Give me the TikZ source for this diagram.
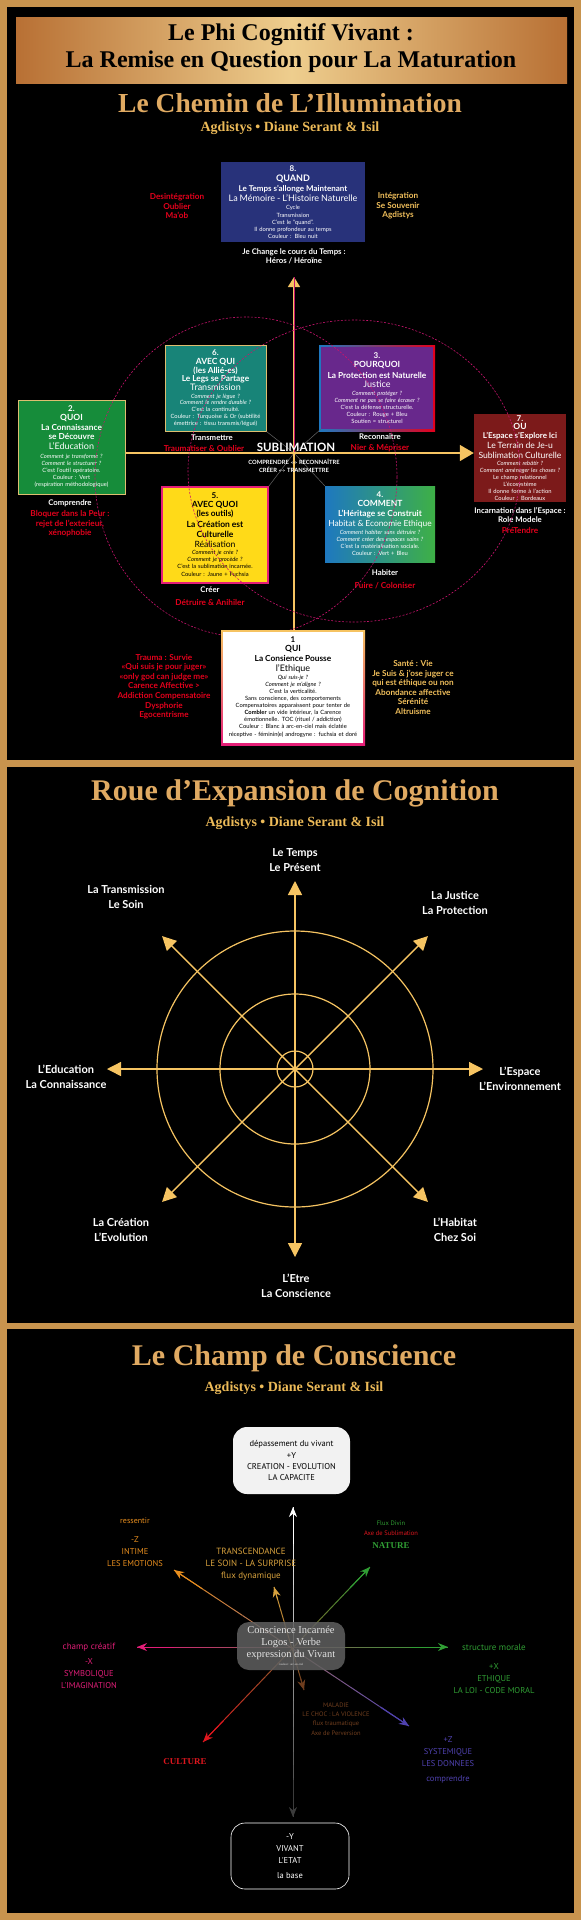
\documentclass[tikz,border=0pt]{standalone}
\usepackage{fontspec}
\setmainfont{Liberation Serif}
\setsansfont{Lato}
\newfontfamily\ptsans{PT Sans}
\usetikzlibrary{arrows.meta,calc,positioning}
\definecolor{goldbg}{RGB}{200,148,78}
\definecolor{copper}{RGB}{184,112,52}
\definecolor{palegold}{RGB}{238,206,142}
\definecolor{titlegold}{RGB}{224,170,98}
\definecolor{subgold}{RGB}{236,186,88}
\definecolor{badred}{RGB}{228,0,28}
\definecolor{goodgold}{RGB}{242,192,92}
\definecolor{arrowgold}{RGB}{246,196,98}
\definecolor{ringpink}{RGB}{200,20,110}
\definecolor{navy}{RGB}{40,50,122}
\definecolor{tealbox}{RGB}{24,132,120}
\definecolor{purplebox}{RGB}{104,40,140}
\definecolor{greenbox}{RGB}{22,140,58}
\definecolor{bordeaux}{RGB}{124,26,26}
\definecolor{yellowbox}{RGB}{255,218,24}
\definecolor{fuchsia}{RGB}{230,30,120}
\definecolor{bluefour}{RGB}{30,120,192}
\definecolor{greenfour}{RGB}{62,176,70}
\definecolor{framegold}{RGB}{222,190,112}
\definecolor{xgrey}{RGB}{100,100,100}
% couleurs du champ
\definecolor{czorange}{RGB}{232,142,30}
\definecolor{czgold}{RGB}{216,162,62}
\definecolor{czgreen}{RGB}{48,158,52}
\definecolor{czpink}{RGB}{226,30,120}
\definecolor{czred}{RGB}{222,22,30}
\definecolor{czbrown}{RGB}{112,62,30}
\definecolor{czpurple}{RGB}{80,66,176}
\definecolor{czgrey}{RGB}{96,96,96}
\definecolor{czdark}{RGB}{60,60,60}
\newcommand\fsz[2]{\fontsize{#1}{#2}\selectfont}
% axe en degrade, pointe aux deux bouts
\newcommand\gradline[5][1pt]{%
  \foreach \i in {1,...,24}{%
    \pgfmathtruncatemacro\pc{100-(\i-0.5)*100/24}%
    \draw[line width=#1, #4!\pc!#5] ($(#2)!{(\i-1)/24}!(#3)$) -- ($(#2)!{\i/24}!(#3)$);
  }%
  \draw[line width=#1, #4, -{Stealth[length=10pt,width=8pt]}] ($(#2)!0.12!(#3)$) -- (#2);
  \draw[line width=#1, #5, -{Stealth[length=10pt,width=8pt]}] ($(#2)!0.88!(#3)$) -- (#3);
}
\begin{document}
\begin{tikzpicture}[x=1pt,y=-1pt,
  qbox/.style={align=center, inner sep=0pt, text=white, font={\sffamily\fsz{5.8}{7}\lineskiplimit=-100pt}},
  lbl/.style={align=center, inner sep=0pt, text=white, font={\sffamily\bfseries\fsz{7.8}{9.5}}},
  bad/.style={lbl, text=badred, font={\sffamily\bfseries\fsz{8.2}{9.6}}},
  good/.style={lbl, text=goodgold, font={\sffamily\bfseries\fsz{8.2}{9.6}}},
  ring/.style={draw=ringpink, line width=0.6pt, dash pattern=on 2pt off 1.6pt},
  flow/.style={draw=arrowgold, line width=1.6pt},
  spoke/.style={draw=arrowgold, line width=1.4pt, -{Triangle[length=14pt,width=14pt]}},
  wlbl/.style={align=center, inner sep=0pt, text=white, font={\sffamily\bfseries\fsz{11}{15}}},
  heading/.style={font={\rmfamily\bfseries\fsz{30}{32}}, text=titlegold, inner sep=0pt},
  byline/.style={font={\rmfamily\bfseries\fsz{14}{16}}, text=subgold, inner sep=0pt},
  cz/.style={align=center, inner sep=0pt, font={\ptsans\fsz{8.5}{12}}},
]
\useasboundingbox (0,0) rectangle (581,1920);
% cadre dore et panneaux noirs
\fill[goldbg] (0,0) rectangle (581,1920);
\fill[black] (7,7) rectangle (574,760);
\fill[black] (7,767) rectangle (574,1323);
\fill[black] (7,1329) rectangle (574,1913);
\shade[left color=copper, right color=copper, middle color=palegold] (16,17) rectangle (567,83);
\node[font={\rmfamily\bfseries\fsz{24}{27}}, align=center, inner sep=0pt] (head) at (291,48)
  {Le Phi Cognitif Vivant :\\La Remise en Question pour La Maturation};

%%%%% Le Chemin de L'Illumination
\node[heading, font={\rmfamily\bfseries\fsz{27.5}{30}}] (t1) at (290,103) {Le Chemin de L'Illumination};
\node[byline] (s1) at (290,128) {Agdistys • Diane Serant \& Isil};

\coordinate (cl) at (294,453);
\coordinate (up) at (294,277);
\coordinate (qui) at (294,632);

\node[qbox, fill=navy, minimum width=144, minimum height=80, text width=140pt] (b8) at (293,202) {%
  {\bfseries\fsz{8}{7}8.}\\[3pt]
  {\bfseries\fsz{9}{7}QUAND}\\[3pt]
  {\bfseries\fsz{8}{7}Le Temps s'allonge Maintenant}\\[3pt]
  {\fsz{9}{7}La Mémoire - L'Histoire Naturelle}\\[1pt]
  Cycle\\[1pt] Transmission\\ C'est le “quand”.\\ Il donne profondeur au temps\\ Couleur : Bleu nuit};
\node[bad] (d8) at (177,206) {Desintégration\\Oublier\\Ma'ob};
\node[good] (g8) at (398,206) {Intégration\\Se Souvenir\\Agdistys};
\node[lbl] (l8) at (294,256.5) {Je Change le cours du Temps :\\Héros / Héroïne};

\node[qbox, fill=tealbox, draw=framegold, line width=1pt, minimum width=101, minimum height=86, text width=98pt] (b6) at (215.5,388) {%
  {\bfseries\fsz{8}{7}6.}\\[2pt]
  {\bfseries\fsz{8.5}{7}AVEC QUI}\\[2pt]
  {\bfseries\fsz{8.3}{7}(les Allié-es)}\\[1pt]
  {\bfseries\fsz{8.3}{7}Le Legs se Partage}\\[2pt]
  {\fsz{9}{7}Transmission}\\[1pt]
  \itshape Comment je lègue ?\\[-1pt] Comment le rendre durable ?\\ \upshape C'est la continuité.\\
  Couleur : Turquoise \& Or (subtilité\\ émettrice : tissu transmis/légué)};
\node[lbl] (l6) at (212,438) {Transmettre};
\node[bad] (r6) at (204,448) {Traumatiser \& Oublier};

\shade[left color=bluefour, right color=badred] (319,345) rectangle (435,431);
\node[qbox, fill=purplebox, minimum width=112, minimum height=82, text width=108pt] (b3) at (377,388) {%
  {\bfseries\fsz{8}{7}3.}\\[2pt]
  {\bfseries\fsz{8.5}{7}POURQUOI}\\[4pt]
  {\bfseries\fsz{8.3}{7}La Protection est Naturelle}\\[2pt]
  {\fsz{9}{7}Justice}\\[1pt]
  \itshape Comment protéger ?\\ Comment ne pas se faire écraser ?\\ \upshape C'est la défense structurelle.\\
  Couleur : Rouge + Bleu\\ Soutien = structurel};
\node[lbl] (l3) at (380,437) {Reconnaître};
\node[bad] (r3) at (380,448) {Nier \& Mépriser};

\node[qbox, fill=greenbox, draw=framegold, line width=1pt, minimum width=107, minimum height=94, text width=104pt] (b2) at (71.5,447) {%
  {\bfseries\fsz{8}{7}2.}\\[2pt]
  {\bfseries\fsz{8.5}{7}QUOI}\\[3pt]
  {\bfseries\fsz{8.3}{7}La Connaissance}\\[2pt]
  {\bfseries\fsz{8.3}{7}se Découvre}\\[3pt]
  {\fsz{9}{7}L'Education}\\[2pt]
  \itshape Comment je transforme ?\\ Comment le structurer ?\\ \upshape C'est l'outil opératoire.\\
  Couleur : Vert\\ (respiration méthodologique)};
\node[lbl] (l2) at (70,503) {Comprendre};
\node[bad] (r2) at (70,524) {Bloquer dans la Peur :\\rejet de l'exterieur,\\xénophobie};

\node[qbox, fill=bordeaux, minimum width=92, minimum height=88, text width=90pt] (b7) at (520,458) {%
  {\bfseries\fsz{8}{7}7.}\\[1pt]
  {\bfseries\fsz{8.5}{7}OU}\\[2pt]
  {\bfseries\fsz{8}{7}L'Espace s'Explore Ici}\\[3pt]
  {\fsz{8.6}{7}Le Terrain de Je-u}\\[3pt]
  {\fsz{8.6}{7}Sublimation Culturelle}\\
  \itshape Comment rebâtir ?\\ Comment aménager les choses ?\\ \upshape Le champ relationnel\\
  L'écosystème\\ Il donne forme à l'action\\ Couleur : Bordeaux};
\node[lbl] (l7) at (520,515) {Incarnation dans l'Espace :\\Role Modele};
\node[bad] (r7) at (520,530) {PréTendre};

\node[qbox, text=black, fill=yellowbox, draw=fuchsia, line width=1.5pt, minimum width=106, minimum height=96, text width=102pt] (b5) at (215,535) {%
  {\bfseries\fsz{8}{7}5.}\\[2pt]
  {\bfseries\fsz{8.5}{7}AVEC QUOI}\\[2pt]
  {\bfseries\fsz{8.3}{7}(les outils)}\\[4pt]
  {\bfseries\fsz{8.5}{7}La Création est}\\[3pt]
  {\bfseries\fsz{8.5}{7}Culturelle}\\[3pt]
  {\fsz{8.6}{7}Réalisation}\\
  \itshape Comment je crée ?\\ Comment je procède ?\\ \upshape C'est la sublimation incarnée.\\[1pt]
  Couleur : Jaune + Fuchsia};
\node[lbl] (l5) at (210,590) {Créer};
\node[bad] (r5) at (210,602) {Détruire \& Anihiler};

\node[qbox, left color=bluefour, right color=greenfour, minimum width=110, minimum height=76, text width=108pt] (b4) at (380,524) {%
  {\bfseries\fsz{8}{7}4.}\\[2pt]
  {\bfseries\fsz{8.5}{7}COMMENT}\\[3pt]
  {\bfseries\fsz{8.3}{7}L'Héritage se Construit}\\[3pt]
  {\fsz{8.4}{7}Habitat \& Economie Ethique}\\[1pt]
  \itshape Comment habiter sans détruire ?\\ Comment créer des espaces sains ?\\ \upshape
  C'est la matérialisation sociale.\\ Couleur : Vert + Bleu};
\node[lbl] (l4) at (385,573) {Habiter};
\node[bad] (r4) at (385,586) {Fuire / Coloniser};

% croix grise et fleches
\foreach \c in {b6.south east, b3.south west, b5.north east, b4.north west}
  \draw[xgrey, line width=0.5pt] (cl) -- (\c);
\draw[flow, -{Triangle[length=10pt,width=12pt]}] (qui) -- (up);
\draw[ringpink, line width=0.5pt] (cl) -- (up);
\draw[flow, -{Triangle[length=14pt,width=16pt]}] (b2.east |- cl) -- (b7.west |- cl);
\node[font={\sffamily\bfseries\fsz{11.5}{12}}, text=white, inner sep=0pt] (sub) at (296,447) {SUBLIMATION};
\node[font={\sffamily\bfseries\fsz{5.8}{8}}, text=white, align=center, inner sep=0pt] (cr) at (294,466)
  {COMPRENDRE $\leftrightarrow$ RECONNAÎTRE\\CRÉER $\leftrightarrow$ TRANSMETTRE};

% cercles pointilles
\draw[ring] (246,477) ellipse (151 and 160);
\draw[ring] (354,471) ellipse (166 and 151);

\shade[top color=arrowgold, bottom color=fuchsia] (221,630) rectangle (365,745);
\node[qbox, text=black, fill=white, minimum width=140, minimum height=111, text width=138pt] (b1) at (293,687.5) {%
  {\bfseries\fsz{8}{7}1}\\[2pt]
  {\bfseries\fsz{8.5}{7}QUI}\\[3pt]
  {\bfseries\fsz{8.3}{7}La Consience Pousse}\\[3pt]
  {\fsz{9}{7}l'Ethique}\\[1pt]
  \itshape Qui suis-je ?\\ Comment je m'aligne ?\\ \upshape C'est la verticalité.\\
  Sans conscience, des comportements\\ Compensatoires apparaissent pour tenter de\\
  \textbf{Combler} un vide intérieur, la Carence\\ émotionnelle. TOC (rituel / addiction)\\
  Couleur : Blanc à arc-en-ciel mais éclatée\\[1pt] réceptive - féminin(e) androgyne : fuchsia et doré};
\node[bad] (r1) at (164,686.5) {Trauma : Survie\\«Qui suis je pour juger»\\«only god can judge me»\\Carence Affective >\\Addiction Compensatoire\\Dysphorie\\Egocentrisme};
\node[good] (g1) at (413,687.5) {Santé : Vie\\Je Suis \& j'ose juger ce\\qui est éthique ou non\\Abondance affective\\Sérénité\\Altruisme};

%%%%% Roue d'Expansion de Cognition
\node[heading] (t2) at (295,793) {Roue d'Expansion de Cognition};
\node[byline] (s2) at (295,823) {Agdistys • Diane Serant \& Isil};
\coordinate (w) at (295,1069);
\foreach \r in {18,75,138}
  \draw[arrowgold, line width=1.2pt] (w) circle (\r);
\foreach \a in {0,45,...,315}
  \draw[spoke] (w) -- ++(\a:188);
\node[wlbl] (n0) at (295,860.5) {Le Temps\\Le Présent};
\node[wlbl] (n1) at (126,896.5) {La Transmission\\Le Soin};
\node[wlbl] (n2) at (455,902.5) {La Justice\\La Protection};
\node[wlbl] (n3) at (66,1076.5) {L'Education\\La Connaissance};
\node[wlbl] (n4) at (520,1078.5) {L'Espace\\L'Environnement};
\node[wlbl] (n5) at (121,1229.5) {La Création\\L'Evolution};
\node[wlbl] (n6) at (455,1229.5) {L'Habitat\\Chez Soi};
\node[wlbl] (n7) at (296,1285.5) {L'Etre\\La Conscience};

%%%%% Le Champ de Conscience
\node[heading] (t3) at (294,1358) {Le Champ de Conscience};
\node[byline] (s3) at (294,1388) {Agdistys • Diane Serant \& Isil};
\coordinate (o) at (293,1647);
\coordinate (ytop) at (293,1507);
\coordinate (ybot) at (293,1817);
\coordinate (xl) at (137,1647);
\coordinate (xr) at (448,1647);
\coordinate (zl) at (174,1570);
\coordinate (zr) at (409,1726);
\coordinate (nat) at (370,1567);
\coordinate (cul) at (203,1742);
\coordinate (tra) at (274,1587);
\coordinate (mal) at (304,1690);

\node[cz, fill={rgb,255:red,242;green,242;blue,242}, rounded corners=14pt, minimum width=117, minimum height=67] (top) at (291.5,1460.5)
  {dépassement du vivant\\+Y\\[-1pt]CREATION - EVOLUTION\\[-1pt]LA CAPACITE};
\gradline[1pt]{ytop}{ybot}{white}{czdark}
\gradline[1pt]{xl}{xr}{czpink}{czgreen}
\gradline[1pt]{zl}{zr}{czorange}{czpurple}
\gradline[1pt]{nat}{cul}{czgreen}{czred}
\gradline[1pt]{tra}{mal}{czgold}{czbrown}
\node[fill=czgrey, fill opacity=0.85, text opacity=1, rounded corners=12pt, minimum width=108, minimum height=48, inner sep=0pt,
  align=center, text={rgb,255:red,228;green,228;blue,228}, font={\rmfamily\fsz{10.5}{12}}] (ci) at (291,1646)
  {Conscience Incarnée\\Logos - Verbe\\expression du Vivant\\[-4pt]{\fsz{3}{3}couleur : arc-en-ciel}};

\node[cz, text=czorange, font={\ptsans\fsz{8}{10}}] (res) at (135,1521) {ressentir};
\node[cz, text=czorange] (emo) at (135,1552) {-Z\\INTIME\\LES EMOTIONS};
\node[cz, text=czgold, font={\ptsans\fsz{9}{12}}] (soin) at (251,1564) {TRANSCENDANCE\\LE SOIN - LA SURPRISE\\flux dynamique};
\node[cz, text=czgreen, font={\ptsans\fsz{6.5}{8}}] (div) at (391,1523) {Flux Divin};
\node[cz, text=czred, font={\ptsans\fsz{6.5}{8}}] (sbl) at (391,1533) {Axe de Sublimation};
\node[cz, text=czgreen, font={\rmfamily\bfseries\fsz{9}{10}}] (natl) at (391,1546) {NATURE};
\node[cz, text=czpink, font={\ptsans\fsz{9}{12}}] (crea) at (89,1647) {champ créatif};
\node[cz, text=czpink] (sym) at (89,1674) {-X\\SYMBOLIQUE\\L'IMAGINATION};
\node[cz, text=czgreen, font={\ptsans\fsz{9}{12}}] (mor) at (494,1647) {structure morale};
\node[cz, text=czgreen] (eth) at (494,1679) {+X\\ETHIQUE\\LA LOI - CODE MORAL};
\node[cz, text=czred, font={\rmfamily\bfseries\fsz{9}{10}}] (cull) at (185,1762) {CULTURE};
\node[cz, text=czbrown, font={\ptsans\fsz{6.5}{9.4}}] (mall) at (336,1719) {MALADIE\\LE CHOC : LA VIOLENCE\\flux traumatique\\Axe de Perversion};
\node[cz, text=czpurple] (sys) at (448,1752) {+Z\\SYSTEMIQUE\\LES DONNEES};
\node[cz, text=czpurple] (comp) at (448,1779) {comprendre};
\node[cz, text=white, draw=white, line width=0.6pt, fill=black, rounded corners=14pt, minimum width=118, minimum height=66] (base) at (290,1856)
  {-Y\\VIVANT\\L'ETAT\\[3pt]la base};
\end{tikzpicture}
\end{document}
